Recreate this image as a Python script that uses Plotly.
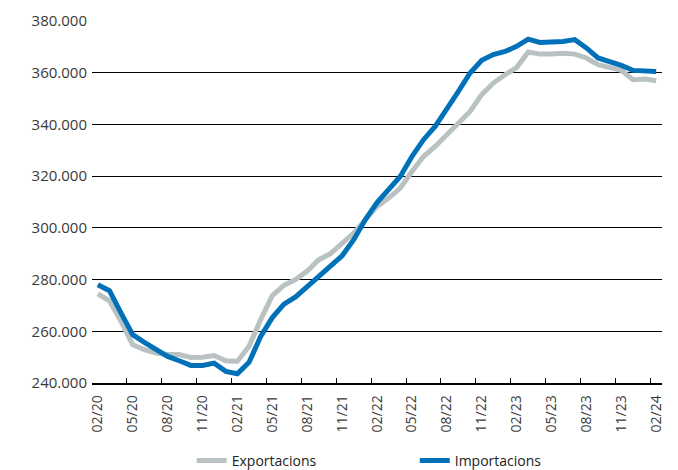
import plotly.graph_objects as go

# meses 02/20 .. 02/24
mesos = []
for any_ in range(20, 25):
    for m in range(1, 13):
        if (any_ == 20 and m < 2) or (any_ == 24 and m > 2):
            continue
        mesos.append(f"{m:02d}/{any_}")

exportacions = [274500, 271800, 263800, 254800, 252900, 251600, 251000, 251000,
                249900, 250000, 250600, 248600, 248400, 254200, 264500, 273800,
                277800, 280000, 283300, 287700, 290000, 294100, 298000, 303200,
                308300, 311500, 315400, 321800, 327600, 331500, 336000, 340600,
                345000, 351500, 356000, 359200, 362000, 368000, 367200, 367200,
                367500, 367200, 365700, 363100, 362200, 360900, 357300, 357600,
                356900]

importacions = [278000, 275700, 267000, 258700, 255700, 252900, 250300, 248600,
                246800, 246800, 247700, 244500, 243600, 248000, 258000, 265300,
                270500, 273300, 277300, 281200, 284700, 289200, 295400, 303200,
                309800, 314800, 319900, 327600, 334100, 339200, 345700, 352800,
                359900, 364800, 367000, 368200, 370200, 373000, 371700, 371900,
                372100, 372800, 369600, 365700, 364400, 362800, 360900, 360500,
                360500]

gris = "#b9c1c3"
blau = "#0071b9"

fig = go.Figure()
fig.add_trace(go.Scatter(x=mesos, y=exportacions, mode="lines", name="Exportacions",
                         line=dict(color=gris, width=5)))
fig.add_trace(go.Scatter(x=mesos, y=importacions, mode="lines", name="Importacions",
                         line=dict(color=blau, width=5)))

# la pàgina té 8px de marge, per això la figura és una mica més petita
fig.update_layout(
    width=670, height=462,
    margin=dict(l=84, r=16, t=13, b=87, autoexpand=False),
    paper_bgcolor="white", plot_bgcolor="white",
    separators=",.",
    font=dict(family="Open Sans", size=14, color="#3a3a3a"),
    showlegend=True,
    legend=dict(orientation="h", x=0.175, xanchor="left", y=-0.2155, yanchor="middle",
                font=dict(size=14, color="#222"), entrywidth=178, entrywidthmode="pixels",
                tracegroupgap=0),
)
fig.update_xaxes(
    type="category", range=[-0.5, len(mesos) - 0.5],
    tickmode="linear", tick0=0, dtick=3, tickson="boundaries",
    ticks="inside", ticklen=5, tickcolor="black", tickwidth=1,
    showline=True, linecolor="black", linewidth=1.5,
    showgrid=False, tickangle=-90, tickfont=dict(size=14), ticklabelstandoff=5,
)
fig.update_yaxes(
    range=[240000, 380000], dtick=20000, tickformat=",.0f",
    showgrid=True, gridcolor="black", gridwidth=1,
    zeroline=False, showline=False, ticks="", ticklabelstandoff=4,
    tickfont=dict(size=15),
)

fig.write_html("out.html")
